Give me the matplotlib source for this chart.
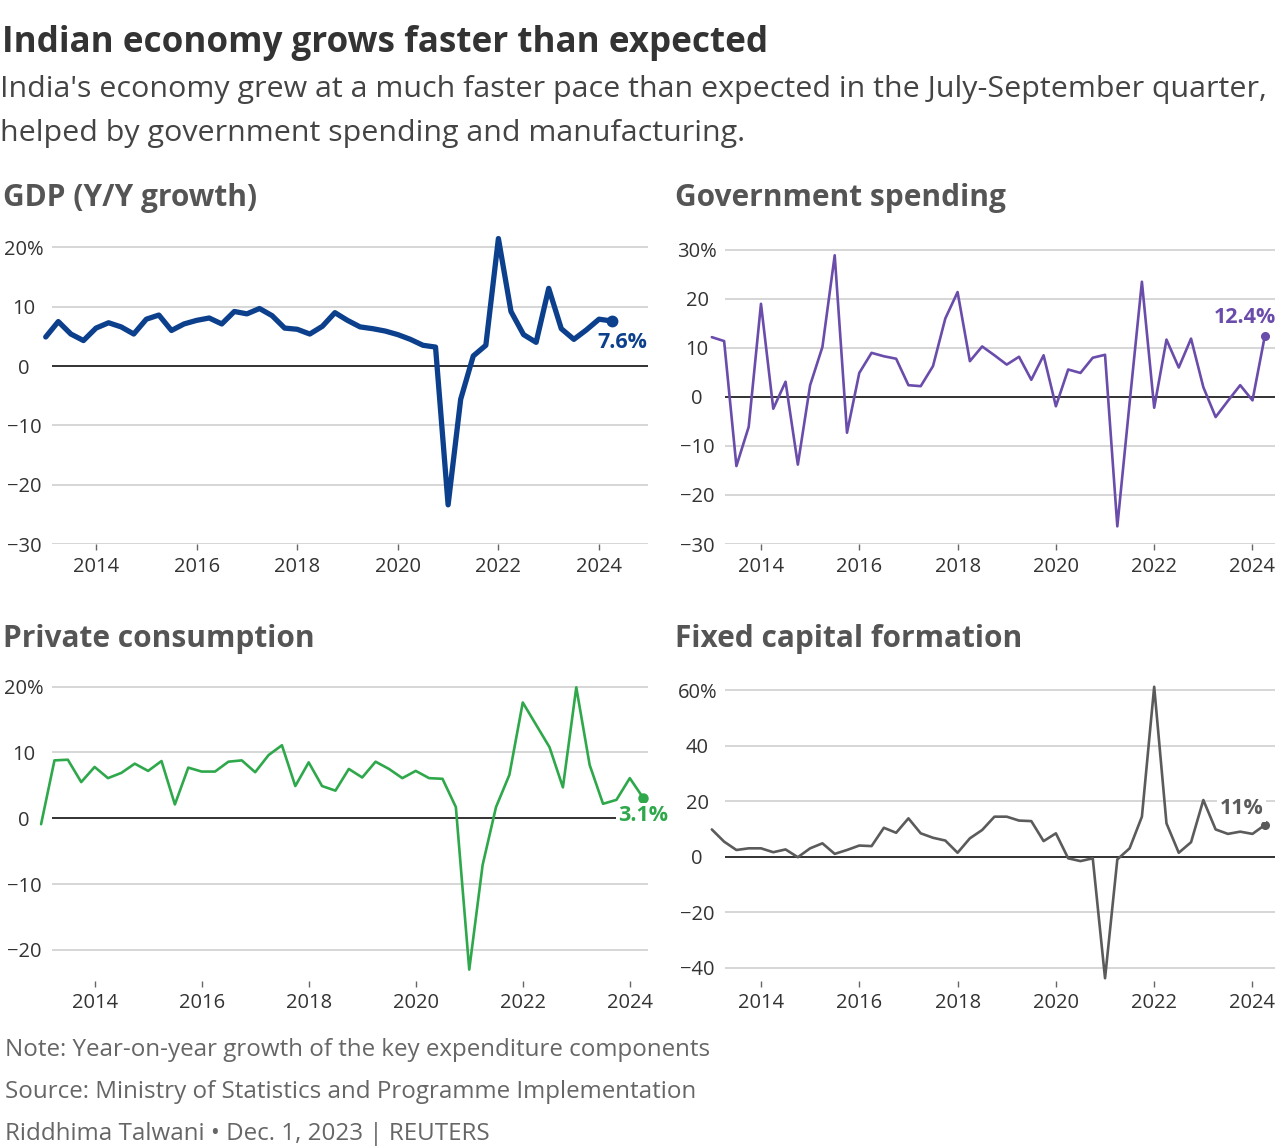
import numpy as np
import matplotlib
matplotlib.use("Agg")
import matplotlib.pyplot as plt

plt.rcParams['font.family'] = ['Open Sans', 'DejaVu Sans']

# quarterly positions on the time axis (46 quarters)
quarters = np.arange(2013.0, 2024.26, 0.25)

gdp = [4.9, 7.5, 5.4, 4.3, 6.4, 7.3, 6.6, 5.4, 7.9, 8.6, 6.0, 7.1,
       7.7, 8.1, 7.1, 9.2, 8.8, 9.7, 8.5, 6.4, 6.2, 5.4, 6.7, 9.0,
       7.7, 6.6, 6.3, 5.9, 5.3, 4.5, 3.5, 3.2, -23.4, -5.6, 1.7, 3.5,
       21.5, 9.2, 5.3, 4.0, 13.1, 6.3, 4.5, 6.1, 7.9, 7.6]

gov = [12.2, 11.4, -14.1, -6.1, 19.0, -2.4, 3.1, -13.8, 2.4, 10.2, 28.9, -7.3,
       4.9, 9.0, 8.3, 7.8, 2.4, 2.2, 6.3, 16.0, 21.4, 7.3, 10.3, 8.5,
       6.6, 8.2, 3.5, 8.5, -1.9, 5.6, 4.9, 8.0, 8.6, -26.4, -1.2, 23.5,
       -2.2, 11.7, 6.0, 11.9, 2.0, -4.1, -0.8, 2.4, -0.7, 12.4]

private = [-0.9, 8.8, 8.9, 5.5, 7.8, 6.1, 6.9, 8.3, 7.2, 8.7, 2.1, 7.7,
           7.1, 7.1, 8.6, 8.8, 7.0, 9.6, 11.1, 4.9, 8.5, 4.9, 4.2, 7.5,
           6.2, 8.6, 7.5, 6.1, 7.2, 6.1, 6.0, 1.7, -23.0, -7.1, 1.7, 6.6,
           17.6, 14.2, 10.8, 4.7, 19.9, 8.1, 2.2, 2.8, 6.1, 3.1]

fixed = [9.8, 5.4, 2.4, 3.0, 3.0, 1.6, 2.6, -0.2, 3.0, 4.8, 1.0, 2.4,
         4.0, 3.8, 10.4, 8.6, 13.8, 8.4, 6.8, 5.8, 1.4, 6.6, 9.6, 14.4,
         14.4, 13.0, 12.8, 5.6, 8.4, -0.6, -1.6, -0.6, -43.8, -1.0, 3.0, 14.4,
         61.2, 12.0, 1.4, 5.2, 20.4, 9.8, 8.2, 9.0, 8.2, 11.4]

year_ticks = [2014, 2016, 2018, 2020, 2022, 2024]

W, H = 1280, 1148
fig = plt.figure(figsize=(W / 100, H / 100), dpi=100)


def px_axes(left, top, right, bottom):
    return fig.add_axes([left / W, 1 - bottom / H, (right - left) / W, (bottom - top) / H])


def style_panel(ax, yticks, xlim, ylim, lw, ms, series, color, label, offset, ha, va):
    ax.set_xlim(*xlim)
    ax.set_ylim(*ylim)
    for s in ['top', 'right', 'left', 'bottom']:
        ax.spines[s].set_visible(False)
    for y in yticks:
        if y == 0:
            ax.axhline(0, color='#222222', lw=1.3, zorder=2)
        else:
            ax.axhline(y, color='#d0d0d0', lw=1.2, zorder=1)
    ax.set_yticks(yticks)
    labels = []
    for y in yticks:
        t = f"{abs(y)}" if y >= 0 else f"\u2212{abs(y)}"
        if y == max(yticks):
            t += "%"
        labels.append(t)
    ax.set_yticklabels(labels, ha='center')
    ax.tick_params(axis='y', length=0, pad=20, labelsize=14.5, labelcolor='#333333')
    ax.set_xticks(year_ticks)
    ax.set_xticklabels([str(y) for y in year_ticks])
    ax.tick_params(axis='x', direction='out', length=4, width=1, color='#666666',
                   pad=5, labelsize=14.5, labelcolor='#333333')
    ax.plot(quarters, series, color=color, lw=lw, clip_on=False, zorder=3,
            solid_joinstyle='round', solid_capstyle='round')
    ax.plot(quarters[-1], series[-1], 'o', color=color, ms=ms, clip_on=False, zorder=4)
    ax.annotate(f"{label}%", xy=(quarters[-1], series[-1]), xytext=offset,
                textcoords='offset points', ha=ha, va=va, color=color,
                fontsize=15.5, fontweight='bold', zorder=5,
                bbox=dict(boxstyle='square,pad=0.1', fc='white', ec='none'))


# GDP
ax1 = px_axes(52, 232, 648, 544)
style_panel(ax1, [20, 10, 0, -10, -20, -30], (2013.125, 2024.974), (-30, 22.6),
            3.8, 7.5, gdp, '#0c3f8c', '7.6', (-10, -8), 'left', 'top')

# Government spending
ax2 = px_axes(725, 245, 1275, 544)
style_panel(ax2, [30, 20, 10, 0, -10, -20, -30], (2013.268, 2024.458), (-30, 31.0),
            1.9, 5.5, gov, '#6a4cab', '12.4', (8, 6), 'right', 'bottom')

# Private consumption
ax3 = px_axes(52, 683, 648, 981)
style_panel(ax3, [20, 10, 0, -10, -20], (2013.204, 2024.34), (-24.73, 20.56),
            1.9, 6.5, private, '#2ea84a', '3.1', (0, -5), 'center', 'top')

# Fixed capital formation
ax4 = px_axes(725, 684, 1275, 981)
style_panel(ax4, [60, 40, 20, 0, -20, -40], (2013.268, 2024.458), (-44.8, 62.2),
            1.9, 5.5, fixed, '#5b5b5b', '11', (-1, 4), 'right', 'bottom')

# titles and text
fig.text(2 / W, 1 - 43 / H, "Indian economy grows faster than expected", fontsize=25.2,
         fontweight='bold', color='#333333', va='center', ha='left')
fig.text(0 / W, 1 - 90 / H,
         "India's economy grew at a much faster pace than expected in the July-September quarter,",
         fontsize=21.9, color='#444444', va='center', ha='left')
fig.text(0 / W, 1 - 134 / H, "helped by government spending and manufacturing.",
         fontsize=21.9, color='#444444', va='center', ha='left')

panel_title = dict(fontsize=21.5, fontweight='bold', color='#555555', va='center', ha='left')
fig.text(3 / W, 1 - 198 / H, "GDP (Y/Y growth)", **panel_title)
fig.text(675 / W, 1 - 198 / H, "Government spending", **panel_title)
fig.text(3 / W, 1 - 639 / H, "Private consumption", **panel_title)
fig.text(675 / W, 1 - 639 / H, "Fixed capital formation", **panel_title)

foot = dict(fontsize=17.4, color='#666666', va='center', ha='left')
fig.text(5 / W, 1 - 1050 / H, "Note: Year-on-year growth of the key expenditure components", **foot)
fig.text(5 / W, 1 - 1092 / H, "Source: Ministry of Statistics and Programme Implementation", **foot)
fig.text(5 / W, 1 - 1134 / H, "Riddhima Talwani \u2022 Dec. 1, 2023 | REUTERS", **foot)

fig.savefig("out.png", dpi=100, facecolor='white')
